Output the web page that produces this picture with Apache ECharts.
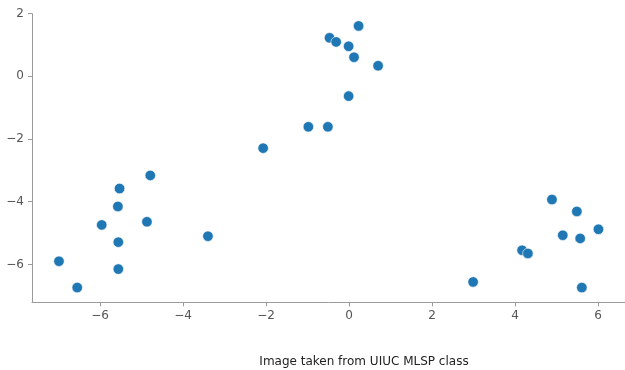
<!DOCTYPE html>
<html>
<head>
<meta charset="utf-8">
<script src="https://cdn.jsdelivr.net/npm/echarts@6/dist/echarts.min.js"></script>
<style>
  html, body { margin: 0; padding: 0; background: #fff; }
  #chart { width: 625px; height: 370px; }
</style>
</head>
<body>
<div id="chart"></div>
<script>
// Projected 2-D points (x, y)
const xValues = [
  -6.99, -6.55, -5.96, -5.57, -5.53, -5.56, -5.56, -4.87, -4.79, -3.40,
  -2.07, -0.98, -0.51, -0.01, -0.47, -0.31, -0.01, 0.12, 0.23, 0.70,
  2.99, 4.17, 4.31, 4.89, 5.49, 5.15, 5.57, 6.01, 5.61
];
const yValues = [
  -5.90, -6.74, -4.74, -4.15, -3.58, -5.29, -6.15, -4.64, -3.16, -5.10,
  -2.29, -1.61, -1.61, -0.63, 1.23, 1.10, 0.96, 0.61, 1.61, 0.34,
  -6.56, -5.55, -5.65, -3.93, -4.31, -5.07, -5.17, -4.88, -6.74
];
const xTicks = [-6, -4, -2, 0, 2, 4, 6];
const yTicks = [-6, -4, -2, 0, 2];
const caption = 'Image taken from UIUC MLSP class';

const points = xValues.map((x, i) => [x, yValues[i]]);
const fmt = v => (v < 0 ? '\u2212' + Math.abs(v) : String(v));

const axisCommon = {
  type: 'value',
  splitLine: { show: false },
  axisLine: { show: true, onZero: false, lineStyle: { color: '#9a9a9a', width: 1 } },
  axisTick: { show: true, length: 4, lineStyle: { color: '#9a9a9a' } },
  axisLabel: {
    color: '#555555',
    fontFamily: 'DejaVu Sans',
    fontSize: 12,
    formatter: fmt
  }
};

const chart = echarts.init(document.getElementById('chart'), null, { renderer: 'canvas' });
chart.setOption({
  animation: false,
  backgroundColor: '#ffffff',
  grid: { left: 32, right: 0, top: 13.7, bottom: 67.7, containLabel: false },
  xAxis: Object.assign({}, axisCommon, {
    min: -7.64, max: 6.65,
    axisTick: Object.assign({}, axisCommon.axisTick, { customValues: xTicks }),
    axisLabel: Object.assign({}, axisCommon.axisLabel, { customValues: xTicks, margin: 8 })
  }),
  yAxis: Object.assign({}, axisCommon, {
    min: -7.21, max: 2.0,
    axisTick: Object.assign({}, axisCommon.axisTick, { customValues: yTicks }),
    axisLabel: Object.assign({}, axisCommon.axisLabel, { customValues: yTicks, margin: 8 })
  }),
  title: {
    text: caption,
    left: 364, top: 356,
    padding: 0,
    textAlign: 'center',
    textStyle: { fontFamily: 'DejaVu Sans', fontSize: 12, fontWeight: 'normal', color: '#222222' }
  },
  series: [{
    type: 'scatter',
    data: points,
    symbolSize: 10.5,
    itemStyle: { color: '#1f77b4', borderColor: '#ffffff', borderWidth: 0.6, opacity: 1 }
  }]
});
</script>
</body>
</html>
